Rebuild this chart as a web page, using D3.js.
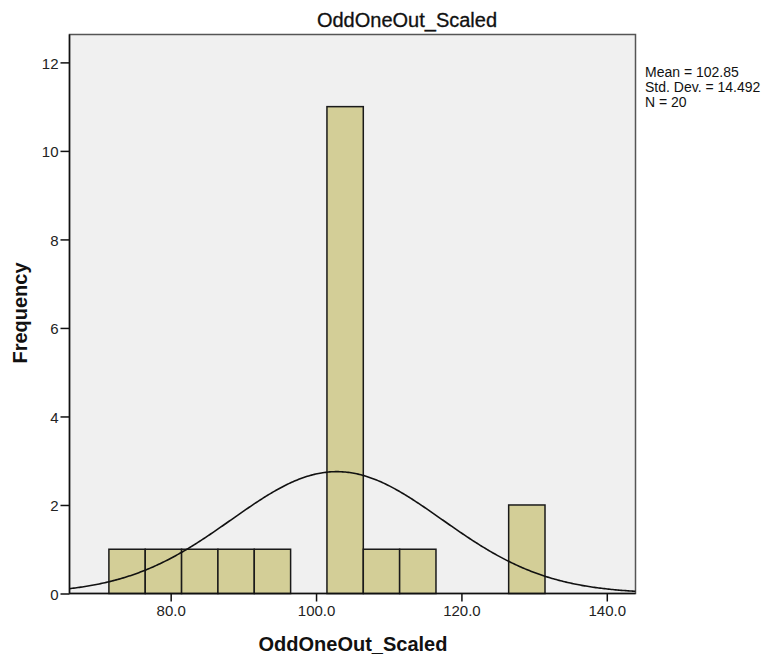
<!DOCTYPE html>
<html>
<head>
<meta charset="utf-8">
<script src="https://cdn.jsdelivr.net/npm/d3@7"></script>
<style>
  body { margin: 0; background: #fff; }
  svg { display: block; font-family: "Liberation Sans", Arial, sans-serif; }
</style>
</head>
<body>
<svg id="chart" width="771" height="663"></svg>
<script>
// ---- data ----
const binEdges = [71.5, 76.5, 81.5, 86.5, 91.5, 96.5, 101.5, 106.5, 111.5, 116.5, 121.5, 126.5, 131.5];
const binCounts = [1, 1, 1, 1, 1, 0, 11, 1, 1, 0, 0, 2];
const xTicks = [80, 100, 120, 140];
const yTicks = [0, 2, 4, 6, 8, 10, 12];
const statMean = 102.85;
const statSD = 14.492;
const statN = 20;
const statsLines = ["Mean = 102.85", "Std. Dev. = 14.492", "N = 20"];
const chartTitle = "OddOneOut_Scaled";
const xTitle = "OddOneOut_Scaled";
const yTitle = "Frequency";

// ---- layout ----
const svg = d3.select("#chart");
const L = 69.5, R = 635.5, T = 34.5, B = 593.5;

const x = d3.scaleLinear().domain([66.08, 143.95]).range([L, R]);
const y = d3.scaleLinear().domain([0, 12.63]).range([B, T]);

// plot background + frame
svg.append("rect").attr("x", L).attr("y", T).attr("width", R - L).attr("height", B - T)
  .attr("fill", "#f0f0f0").attr("stroke", "#555").attr("stroke-width", 1.5);

// bars
const bins = binCounts.map((c, i) => ({x0: binEdges[i], x1: binEdges[i + 1], c}));
svg.append("g").selectAll("rect").data(bins.filter(d => d.c > 0)).join("rect")
  .attr("x", d => x(d.x0))
  .attr("y", d => y(d.c))
  .attr("width", d => x(d.x1) - x(d.x0))
  .attr("height", d => y(0) - y(d.c))
  .attr("fill", "#d3ce97")
  .attr("stroke", "#1a1a1a")
  .attr("stroke-width", 1.5);

// normal curve
const binW = binEdges[1] - binEdges[0];
const pdf = v => statN * binW / (statSD * Math.sqrt(2 * Math.PI)) * Math.exp(-0.5 * Math.pow((v - statMean) / statSD, 2));
const [d0, d1] = x.domain();
const pts = d3.range(0, 401).map(i => d0 + (d1 - d0) * i / 400);
svg.append("path")
  .attr("d", d3.line().x(v => x(v)).y(v => y(pdf(v))).curve(d3.curveLinear)(pts))
  .attr("fill", "none").attr("stroke", "#111").attr("stroke-width", 1.6);

// axes
const xAxis = svg.append("g").attr("transform", `translate(0,${B})`)
  .call(d3.axisBottom(x).tickValues(xTicks).tickFormat(d3.format(".1f")).tickSize(8).tickPadding(4));
const yAxis = svg.append("g").attr("transform", `translate(${L},0)`)
  .call(d3.axisLeft(y).tickValues(yTicks).tickFormat(d3.format("d")).tickSize(9).tickPadding(2));
[xAxis, yAxis].forEach(g => {
  g.select(".domain").attr("stroke", "#111").attr("stroke-width", 1.5);
  g.selectAll(".tick line").attr("stroke", "#111").attr("stroke-width", 1.5);
  g.selectAll(".tick text").attr("fill", "#222").attr("font-size", 15)
    .attr("font-family", "'Liberation Sans', Arial, sans-serif");
});
xAxis.select(".domain").attr("d", `M${L},0H${R}`);
yAxis.select(".domain").attr("d", `M0,${B}V${T}`);
yAxis.selectAll(".tick text").attr("dy", "0.4em");

// titles
svg.append("text").attr("x", 407).attr("y", 27).attr("text-anchor", "middle")
  .attr("font-size", 20).attr("fill", "#111").attr("stroke", "#111").attr("stroke-width", 0.3).text(chartTitle);
svg.append("text").attr("x", 353).attr("y", 651).attr("text-anchor", "middle")
  .attr("font-size", 20).attr("font-weight", "bold").attr("fill", "#111").text(xTitle);
svg.append("text").attr("transform", "translate(27,313) rotate(-90)").attr("text-anchor", "middle")
  .attr("font-size", 20).attr("font-weight", "bold").attr("fill", "#111").text(yTitle);

// stats box text
svg.append("g").selectAll("text").data(statsLines).join("text")
  .attr("x", 645).attr("y", (d, i) => 76.5 + i * 15)
  .attr("font-size", 14).attr("fill", "#111").text(d => d);
</script>
</body>
</html>
